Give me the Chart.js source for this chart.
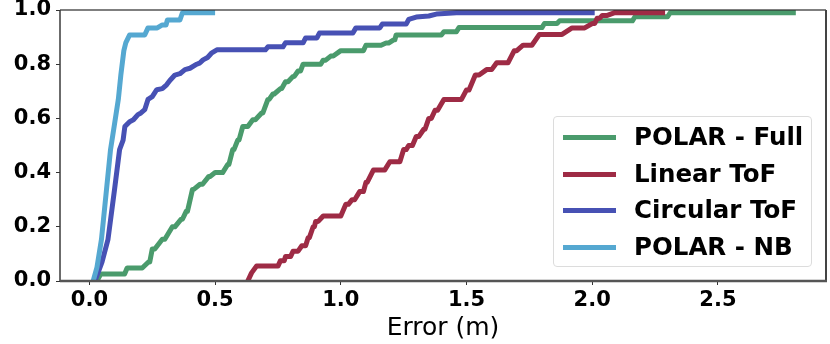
<!DOCTYPE html>
<html lang="en">

<head>
  <meta charset="UTF-8" />
  <title>Error CDF</title>
  <script src="https://cdn.jsdelivr.net/npm/chart.js"></script>
  <style>
    html, body { margin: 0; padding: 0; background: #fff; }
    #wrap { position: relative; width: 830px; height: 344px; }
    #legend {
      position: absolute; left: 553px; top: 116px; width: 259px; height: 151px;
      box-sizing: border-box; border: 1px solid #dcdcdc; border-radius: 4px;
      background: rgba(255, 255, 255, 0.85); padding-top: 2px;
      font-family: "DejaVu Sans", sans-serif; font-weight: bold; font-size: 24.5px;
    }
    .row { position: relative; height: 36.5px; }
    .swatch { position: absolute; left: 9px; top: 16px; width: 53px; height: 5px; }
    .txt { position: absolute; left: 80px; top: 0; line-height: 36px; color: #000; white-space: nowrap; }
  </style>
</head>

<body>
  <div id="wrap">
    <canvas id="cdfChart" width="830" height="344"></canvas>
    <div id="legend"></div>
  </div>

  <script>
    // series labels + colours (legend order)
    const labels = ['POLAR - Full', 'Linear ToF', 'Circular ToF', 'POLAR - NB'];
    const colors = ['#4a9b6c', '#9e2b45', '#4751b4', '#55a8d1'];

    // POLAR - Full (start/end of each stair level)
    const fullX = [0.03, 0.045, 0.14, 0.15, 0.21, 0.235, 0.24, 0.25, 0.26, 0.29, 0.30, 0.33, 0.34, 0.365, 0.37, 0.385, 0.39, 0.41, 0.415, 0.44, 0.45, 0.475, 0.48, 0.50, 0.53, 0.55, 0.555, 0.57, 0.575, 0.59, 0.595, 0.61, 0.63, 0.65, 0.66, 0.685, 0.69, 0.71, 0.715, 0.73, 0.735, 0.76, 0.765, 0.78, 0.79, 0.81, 0.815, 0.83, 0.84, 0.85, 0.92, 0.93, 0.94, 0.96, 0.97, 1.0, 1.09, 1.10, 1.16, 1.18, 1.19, 1.21, 1.215, 1.22, 1.40, 1.41, 1.46, 1.47, 1.80, 1.81, 1.86, 1.87, 2.16, 2.17, 2.30, 2.31, 2.80];
    const fullY = [0, 0.026, 0.026, 0.048, 0.048, 0.07, 0.07, 0.118, 0.118, 0.154, 0.154, 0.2, 0.2, 0.228, 0.228, 0.257, 0.257, 0.338, 0.338, 0.357, 0.357, 0.386, 0.386, 0.40, 0.40, 0.43, 0.43, 0.485, 0.485, 0.52, 0.52, 0.57, 0.57, 0.595, 0.595, 0.62, 0.62, 0.67, 0.67, 0.69, 0.69, 0.71, 0.71, 0.735, 0.735, 0.755, 0.755, 0.775, 0.775, 0.80, 0.80, 0.815, 0.815, 0.83, 0.83, 0.85, 0.85, 0.87, 0.87, 0.878, 0.878, 0.89, 0.89, 0.908, 0.908, 0.92, 0.92, 0.935, 0.935, 0.95, 0.95, 0.96, 0.96, 0.975, 0.975, 0.99, 0.99];

    // Linear ToF
    const linX = [0.63, 0.645, 0.665, 0.75, 0.76, 0.775, 0.78, 0.80, 0.81, 0.83, 0.845, 0.86, 0.87, 0.875, 0.89, 0.895, 0.90, 0.91, 0.93, 1.0, 1.02, 1.03, 1.045, 1.055, 1.075, 1.09, 1.10, 1.105, 1.13, 1.175, 1.195, 1.235, 1.25, 1.26, 1.27, 1.285, 1.30, 1.31, 1.33, 1.335, 1.35, 1.36, 1.375, 1.385, 1.41, 1.48, 1.50, 1.51, 1.535, 1.55, 1.58, 1.60, 1.62, 1.665, 1.69, 1.70, 1.725, 1.76, 1.79, 1.88, 1.92, 1.97, 2.0, 2.01, 2.02, 2.03, 2.04, 2.06, 2.09, 2.28];
    const linY = [0, 0.03, 0.055, 0.055, 0.075, 0.075, 0.09, 0.09, 0.11, 0.11, 0.13, 0.13, 0.16, 0.16, 0.2, 0.2, 0.22, 0.22, 0.24, 0.24, 0.283, 0.283, 0.30, 0.30, 0.33, 0.33, 0.364, 0.364, 0.41, 0.41, 0.44, 0.44, 0.485, 0.485, 0.50, 0.50, 0.533, 0.533, 0.56, 0.56, 0.60, 0.60, 0.63, 0.63, 0.67, 0.67, 0.705, 0.705, 0.76, 0.76, 0.78, 0.78, 0.805, 0.805, 0.85, 0.85, 0.87, 0.87, 0.91, 0.91, 0.934, 0.934, 0.95, 0.95, 0.97, 0.97, 0.98, 0.98, 0.99, 0.99];

    // Circular ToF
    const circX = [0.022, 0.05, 0.074, 0.10, 0.12, 0.134, 0.141, 0.16, 0.175, 0.193, 0.205, 0.22, 0.233, 0.25, 0.268, 0.29, 0.307, 0.32, 0.34, 0.36, 0.38, 0.40, 0.427, 0.44, 0.452, 0.47, 0.487, 0.507, 0.70, 0.71, 0.77, 0.78, 0.85, 0.86, 0.905, 0.915, 1.048, 1.06, 1.155, 1.165, 1.26, 1.27, 1.30, 1.35, 1.38, 1.46, 2.0];
    const circY = [0, 0.07, 0.154, 0.338, 0.485, 0.52, 0.57, 0.588, 0.595, 0.614, 0.62, 0.632, 0.67, 0.68, 0.706, 0.71, 0.724, 0.74, 0.76, 0.765, 0.78, 0.785, 0.80, 0.805, 0.816, 0.825, 0.842, 0.853, 0.853, 0.864, 0.864, 0.879, 0.879, 0.897, 0.897, 0.915, 0.915, 0.934, 0.934, 0.948, 0.948, 0.965, 0.974, 0.978, 0.985, 0.99, 0.99];

    // POLAR - NB
    const nbX = [0.015, 0.03, 0.048, 0.068, 0.084, 0.10, 0.115, 0.125, 0.137, 0.145, 0.16, 0.22, 0.233, 0.27, 0.29, 0.305, 0.31, 0.36, 0.37, 0.49];
    const nbY = [0, 0.05, 0.154, 0.338, 0.485, 0.58, 0.67, 0.76, 0.85, 0.88, 0.908, 0.908, 0.934, 0.934, 0.945, 0.945, 0.963, 0.963, 0.99, 0.99];

    const xTicks = [0, 0.5, 1.0, 1.5, 2.0, 2.5];
    const yTicks = [0, 0.2, 0.4, 0.6, 0.8, 1.0];

    const seriesX = [fullX, linX, circX, nbX];
    const seriesY = [fullY, linY, circY, nbY];

    const datasets = labels.map((lab, i) => ({
      label: lab,
      data: seriesX[i].map((x, j) => ({ x: x, y: seriesY[i][j] })),
      borderColor: colors[i],
      borderWidth: 5,
      borderJoinStyle: 'round',
      borderCapStyle: 'square',
      pointRadius: 0,
      fill: false,
      tension: 0,
      clip: 0,
      order: labels.length - i
    }));

    // frame round the plot area (matplotlib style spines)
    const framePlugin = {
      id: 'frame',
      afterDraw(chart) {
        const { ctx, chartArea: a } = chart;
        ctx.save();
        ctx.strokeStyle = '#000'; ctx.lineWidth = 1.2;
        ctx.beginPath(); ctx.moveTo(a.left, a.top); ctx.lineTo(a.right, a.top); ctx.stroke();
        ctx.strokeStyle = '#3a3a3a'; ctx.lineWidth = 1.5;
        ctx.beginPath(); ctx.moveTo(a.left, a.top); ctx.lineTo(a.left, a.bottom); ctx.stroke();
        ctx.strokeStyle = '#444'; ctx.lineWidth = 2;
        ctx.beginPath(); ctx.moveTo(a.right, a.top); ctx.lineTo(a.right, a.bottom); ctx.stroke();
        ctx.strokeStyle = '#555'; ctx.lineWidth = 2.5;
        ctx.beginPath(); ctx.moveTo(a.left, a.bottom); ctx.lineTo(a.right + 1, a.bottom); ctx.stroke();
        ctx.restore();
      }
    };

    const tickFont = { family: '"DejaVu Sans", sans-serif', size: 21, weight: 'bold', lineHeight: 1 };

    new Chart(document.getElementById('cdfChart'), {
      type: 'line',
      data: { datasets: datasets },
      options: {
        responsive: false,
        animation: false,
        layout: { padding: { top: 10, right: 4, left: 0, bottom: 0 } },
        plugins: { legend: { display: false }, tooltip: { enabled: false } },
        scales: {
          x: {
            type: 'linear',
            min: -0.117,
            max: 2.93,
            afterBuildTicks: s => { s.ticks = xTicks.map(v => ({ value: v })); },
            afterFit: s => { s.height = 63; s.paddingLeft = 0; s.paddingRight = 0; },
            grid: { drawOnChartArea: false, drawTicks: true, tickLength: 4, color: '#333' },
            border: { display: false },
            ticks: { font: tickFont, color: '#000', padding: 5, maxRotation: 0, callback: v => v.toFixed(1) },
            title: {
              display: true, text: 'Error (m)', color: '#000',
              font: { family: '"DejaVu Sans", sans-serif', size: 25, weight: 'normal' },
              padding: { top: 0, bottom: 1 }
            }
          },
          y: {
            min: 0,
            max: 1,
            afterBuildTicks: s => { s.ticks = yTicks.map(v => ({ value: v })); },
            afterFit: s => { s.width = 60; s.paddingTop = 0; s.paddingBottom = 0; },
            grid: { drawOnChartArea: false, drawTicks: true, tickLength: 4, color: '#333' },
            border: { display: false },
            ticks: { font: tickFont, color: '#000', padding: 5, callback: v => v.toFixed(1) }
          }
        }
      },
      plugins: [framePlugin]
    });

    // legend box inside the plot
    const legend = document.getElementById('legend');
    labels.forEach((lab, i) => {
      const row = document.createElement('div');
      row.className = 'row';
      row.innerHTML = `<div class="swatch" style="background:${colors[i]}"></div><div class="txt">${lab}</div>`;
      legend.appendChild(row);
    });
  </script>
</body>

</html>
